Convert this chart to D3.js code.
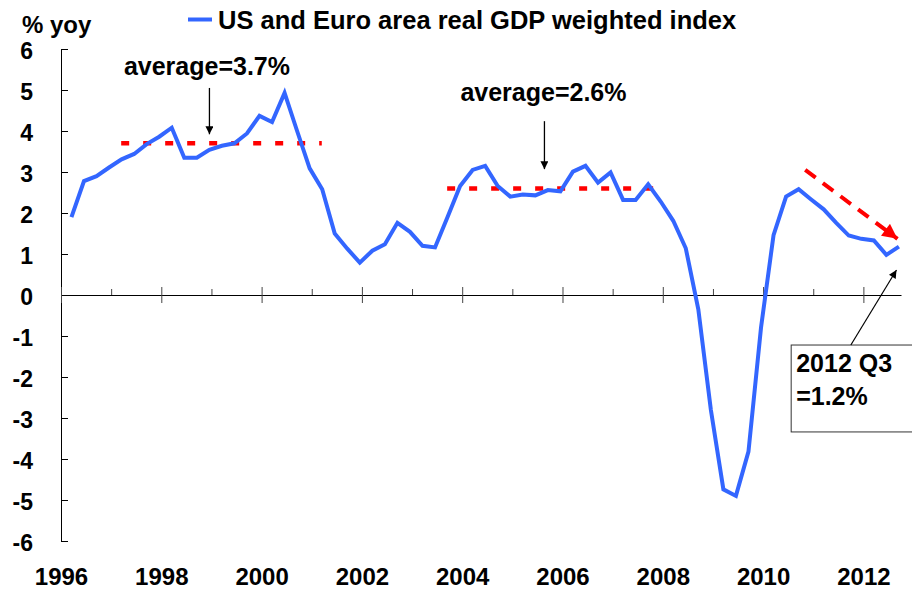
<!DOCTYPE html>
<html>
<head>
<meta charset="utf-8">
<script src="https://cdn.jsdelivr.net/npm/d3@7"></script>
<style>
  body { margin: 0; background: #fff; }
  svg { display: block; font-family: "Liberation Sans", Arial, sans-serif; font-weight: bold; }
</style>
</head>
<body>
<svg id="chart" width="912" height="599"></svg>
<script>
// quarterly % yoy, 1996 Q1 .. 2012 Q3
const gdpYoy = [
    1.90, 2.78, 2.90, 3.11, 3.31, 3.44, 3.68, 3.86,
    4.08, 3.35, 3.35, 3.54, 3.64, 3.70, 3.94, 4.37,
    4.22, 4.93, 4.00, 3.09, 2.58, 1.50, 1.13, 0.79,
    1.08, 1.24, 1.76, 1.54, 1.20, 1.16, 1.90, 2.66,
    3.05, 3.15, 2.66, 2.40, 2.45, 2.43, 2.56, 2.53,
    3.01, 3.15, 2.74, 2.99, 2.32, 2.32, 2.70, 2.28,
    1.81, 1.14, -0.35, -2.80, -4.74, -4.90, -3.82, -0.80,
    1.46, 2.40, 2.58, 2.33, 2.09, 1.76, 1.45, 1.37,
    1.33, 0.98, 1.18
];
const firstYear = 1996;
const yearLabels = [1996, 1998, 2000, 2002, 2004, 2006, 2008, 2010, 2012];
const minorYears = [1997, 1999, 2001, 2003, 2005, 2007, 2009, 2011];
const yTicks = [-6, -5, -4, -3, -2, -1, 0, 1, 2, 3, 4, 5, 6];

const seriesName = "US and Euro area real GDP weighted index";
const avgLabels = ["average=3.7%", "average=2.6%"];
const avgValues = [3.7, 2.6];
const avgSpans = [[1997.2, 2001.2], [2003.7, 2007.84]];
const lastLabel = ["2012 Q3", "=1.2%"];

const svg = d3.select("#chart");

const x = d3.scaleLinear().domain([1996, 2012.75]).range([61, 901]);
const y = d3.scaleLinear().domain([-6, 6]).range([541, 49]);

// each quarter sits in the middle of its last month
const qPos = gdpYoy.map((v, i) => firstYear + (3 * i + 2.5) / 12);

const blue = "#3366ff";
const red = "#ff0000";

const defs = svg.append("defs");
defs.append("marker")
    .attr("id", "headBlack")
    .attr("markerUnits", "userSpaceOnUse")
    .attr("viewBox", "0 0 10 10")
    .attr("refX", 10).attr("refY", 5)
    .attr("markerWidth", 9).attr("markerHeight", 8)
    .attr("orient", "auto")
    .append("path").attr("d", "M0,0L10,5L0,10z").attr("fill", "#000");
defs.append("marker")
    .attr("id", "headRed")
    .attr("markerUnits", "userSpaceOnUse")
    .attr("viewBox", "0 0 10 10")
    .attr("refX", 10).attr("refY", 5)
    .attr("markerWidth", 17).attr("markerHeight", 15)
    .attr("orient", "auto")
    .append("path").attr("d", "M0,0L10,5L0,10z").attr("fill", red);

// y axis, ticks point inwards
svg.append("g")
    .attr("transform", `translate(${x(1996)},0)`)
    .call(d3.axisLeft(y).tickValues(yTicks).tickSize(-7).tickSizeOuter(0)
        .tickPadding(28).tickFormat(d => String(d)))
    .call(g => g.selectAll("text")
        .attr("font-size", 23).attr("font-family", null).attr("fill", "#000").attr("dy", "0.42em"))
    .call(g => g.selectAll("line, path").attr("stroke", "#000"));

// x axis on the zero line
const zeroY = y(0);
svg.append("g")
    .attr("transform", `translate(0,${zeroY})`)
    .call(d3.axisBottom(x).tickValues(yearLabels).tickSize(8).tickSizeOuter(0).tickFormat(""))
    .call(g => g.selectAll(".tick line").attr("y1", -8).attr("stroke", "#444"))
    .call(g => g.select(".domain").attr("stroke", "#000"));
svg.append("g")
    .attr("transform", `translate(0,${zeroY})`)
    .call(d3.axisTop(x).tickValues(minorYears).tickSize(6).tickFormat(""))
    .call(g => g.select(".domain").remove())
    .call(g => g.selectAll(".tick line").attr("stroke", "#444"));

// year labels at the bottom
svg.append("g")
    .attr("transform", "translate(0,568)")
    .call(d3.axisBottom(x).tickValues(yearLabels).tickSize(0).tickPadding(0).tickFormat(d => String(d)))
    .call(g => g.select(".domain").remove())
    .call(g => g.selectAll("text")
        .attr("font-size", 24).attr("font-family", null).attr("fill", "#000"));

// average lines
avgValues.forEach((v, k) => {
    svg.append("line")
        .attr("x1", x(avgSpans[k][0])).attr("x2", x(avgSpans[k][1]))
        .attr("y1", y(v)).attr("y2", y(v))
        .attr("stroke", red).attr("stroke-width", 4.5)
        .attr("stroke-dasharray", "8,14");
});

// series
svg.append("path")
    .datum(gdpYoy)
    .attr("fill", "none")
    .attr("stroke", blue)
    .attr("stroke-width", 4)
    .attr("stroke-linejoin", "miter")
    .attr("d", d3.line().x((d, i) => x(qPos[i])).y(d => y(d)));

// average labels and arrows
const avgText = [[1998.91, 5.37], [2005.62, 4.73]];
const avgArrow = [[1998.96, 5.05, 3.92], [2005.64, 4.24, 3.07]];
avgLabels.forEach((t, k) => {
    svg.append("text")
        .attr("x", x(avgText[k][0])).attr("y", y(avgText[k][1]))
        .attr("text-anchor", "middle").attr("font-size", 25)
        .text(t);
    svg.append("line")
        .attr("x1", x(avgArrow[k][0])).attr("x2", x(avgArrow[k][0]))
        .attr("y1", y(avgArrow[k][1])).attr("y2", y(avgArrow[k][2]))
        .attr("stroke", "#000").attr("stroke-width", 1.3)
        .attr("marker-end", "url(#headBlack)");
});

// downward trend arrow
svg.append("line")
    .attr("x1", x(2010.84)).attr("y1", y(3.05))
    .attr("x2", x(2012.68)).attr("y2", y(1.37))
    .attr("stroke", red).attr("stroke-width", 4)
    .attr("stroke-dasharray", "13,9")
    .attr("marker-end", "url(#headRed)");

// callout box for the last value
svg.append("rect")
    .attr("x", x(2010.56)).attr("y", y(-1.22))
    .attr("width", 130).attr("height", y(-3.34) - y(-1.22))
    .attr("fill", "#fff").attr("stroke", "#333").attr("stroke-width", 1);
lastLabel.forEach((t, k) => {
    svg.append("text")
        .attr("x", x(2010.56) + 5).attr("y", y(-1.22) + 27 + k * 33)
        .attr("font-size", 25)
        .text(t);
});
svg.append("line")
    .attr("x1", x(2011.75)).attr("y1", y(-1.22))
    .attr("x2", x(2012.66)).attr("y2", y(0.61))
    .attr("stroke", "#000").attr("stroke-width", 1.2)
    .attr("marker-end", "url(#headBlack)");

// unit and legend
svg.append("text").attr("x", 22).attr("y", 33).attr("font-size", 24).text("% yoy");
svg.append("line")
    .attr("x1", 188).attr("x2", 212).attr("y1", 19.5).attr("y2", 19.5)
    .attr("stroke", blue).attr("stroke-width", 4);
svg.append("text").attr("x", 218).attr("y", 29).attr("font-size", 25.5).text(seriesName);
</script>
</body>
</html>
